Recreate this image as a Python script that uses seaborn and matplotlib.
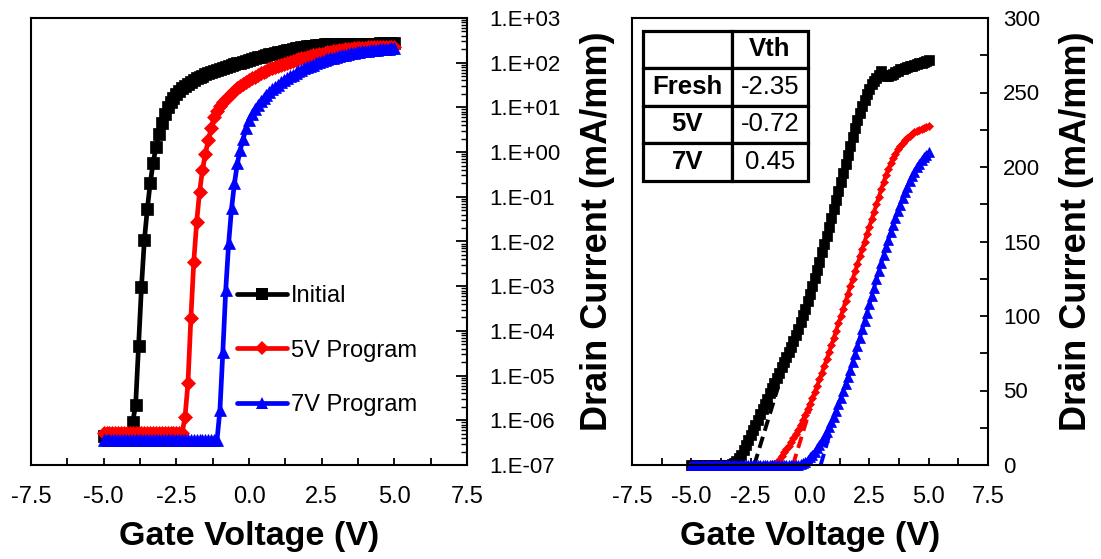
import numpy as np
import pandas as pd
import matplotlib
matplotlib.use("Agg")
import matplotlib.pyplot as plt
import seaborn as sns
from matplotlib.ticker import MultipleLocator, FuncFormatter, LogLocator, NullFormatter
from matplotlib.lines import Line2D

# Gate sweep: -5 V to +5 V in 0.1 V steps
gate_voltage = np.round(np.arange(-50, 51) / 10.0, 1)

# Drain current (mA/mm) for each sweep point
id_initial = [
    4.5e-7, 4.5e-7, 4.5e-7, 4.5e-7, 4.5e-7, 4.5e-7, 4.5e-7, 4.5e-7, 4.5e-7, 4.5e-7,
    9.3e-7, 2.2e-6, 4.6e-5, 9.5e-4, 1.07e-2, 5.2e-2, 0.20, 0.56, 1.32, 2.6,
    4.5, 7.0, 10.0, 13.2, 16.6, 20.0, 23.5, 27.0, 30.5, 34.0,
    37.5, 41.0, 44.5, 48.0, 51.5, 55.0, 58.5, 62.0, 65.5, 69.0,
    72.5, 76.0, 79.5, 83.5, 87.5, 91.5, 96.0, 100.5, 105.0, 110.0,
    115.0, 120.0, 125.5, 131.0, 136.5, 143.0, 148.5, 154.0, 160.0, 166.0,
    172.0, 178.0, 184.0, 190.0, 196.0, 202.0, 208.0, 214.0, 220.0, 226.0,
    231.5, 236.5, 241.0, 245.0, 249.0, 252.5, 255.5, 258.0, 260.0, 262.0,
    264.5, 262.0, 261.0, 261.0, 261.5, 262.5, 263.5, 264.5, 265.5, 266.0,
    266.5, 267.0, 267.5, 268.0, 268.5, 269.0, 269.5, 270.0, 270.5, 271.0,
    271.5,
]
id_5v = [
    5.2e-7, 5.2e-7, 5.2e-7, 5.2e-7, 5.2e-7, 5.2e-7, 5.2e-7, 5.2e-7, 5.2e-7, 5.2e-7,
    5.2e-7, 5.2e-7, 5.2e-7, 5.2e-7, 5.2e-7, 5.2e-7, 5.2e-7, 5.2e-7, 5.2e-7, 5.2e-7,
    5.2e-7, 5.2e-7, 5.2e-7, 5.2e-7, 5.2e-7, 5.2e-7, 5.2e-7, 5.2e-7, 1.2e-6, 6.8e-6,
    1.9e-4, 3.5e-3, 2.75e-2, 0.13, 0.40, 0.93, 1.86, 3.4, 6.2, 8.4,
    10.6, 12.9, 15.3, 18.0, 20.8, 23.8, 27.0, 30.3, 33.8, 37.4,
    41.1, 45.0, 49.0, 53.2, 57.5, 61.9, 66.4, 71.0, 75.7, 80.5,
    85.3, 90.2, 95.1, 100.0, 105.0, 110.0, 115.0, 120.0, 125.0, 130.0,
    135.0, 140.0, 145.0, 150.0, 155.0, 160.0, 165.0, 170.0, 175.0, 180.0,
    185.0, 190.0, 194.5, 198.5, 202.5, 206.0, 209.0, 211.8, 214.2, 216.3,
    218.1, 219.7, 221.1, 222.3, 223.3, 224.2, 225.0, 225.7, 226.3, 226.8,
    227.3,
]
id_7v = [
    3.6e-7, 3.6e-7, 3.6e-7, 3.6e-7, 3.6e-7, 3.6e-7, 3.6e-7, 3.6e-7, 3.6e-7, 3.6e-7,
    3.6e-7, 3.6e-7, 3.6e-7, 3.6e-7, 3.6e-7, 3.6e-7, 3.6e-7, 3.6e-7, 3.6e-7, 3.6e-7,
    3.6e-7, 3.6e-7, 3.6e-7, 3.6e-7, 3.6e-7, 3.6e-7, 3.6e-7, 3.6e-7, 3.6e-7, 3.6e-7,
    3.6e-7, 3.6e-7, 3.6e-7, 3.6e-7, 3.6e-7, 3.6e-7, 3.6e-7, 3.6e-7, 3.6e-7, 3.6e-7,
    1.7e-6, 3.4e-5, 8.3e-4, 9.1e-3, 5.5e-2, 0.20, 0.56, 1.12, 2.0, 3.4,
    5.2, 7.0, 9.0, 11.2, 13.6, 16.2, 19.0, 22.0, 25.2, 28.7,
    32.5, 36.5, 40.7, 45.0, 49.5, 54.2, 59.0, 64.0, 69.2, 74.5,
    79.9, 85.4, 91.0, 96.6, 102.2, 107.8, 113.4, 119.0, 124.6, 130.1,
    135.5, 140.8, 146.0, 151.1, 156.1, 161.0, 165.8, 170.4, 174.8, 179.0,
    183.0, 186.8, 190.4, 193.7, 196.8, 199.7, 202.3, 204.6, 206.6, 208.3,
    209.8,
]

series_names = ["Initial", "5V Program", "7V Program"]
series_colors = ["#000000", "#ff0000", "#0000ff"]
series_markers = ["s", "D", "^"]

# Threshold voltages from linear extrapolation of the transfer curves
vth_labels = ["Fresh", "5V", "7V"]
vth_values = [-2.35, -0.72, 0.45]
tangent_slopes = [52.0, 52.0, 55.0]   # mA/mm per V
tangent_tops = [52.0, 37.0, 22.0]     # mA/mm where the dashed guide stops

df = pd.DataFrame({
    "Vg": np.tile(gate_voltage, 3),
    "Id": np.concatenate([id_initial, id_5v, id_7v]),
    "series": np.repeat(series_names, len(gate_voltage)),
})

sns.set_style("ticks")
plt.rcParams["font.family"] = ["Liberation Sans", "DejaVu Sans"]
for key in ["text.color", "axes.labelcolor", "xtick.color", "ytick.color", "axes.edgecolor"]:
    plt.rcParams[key] = "black"

W, H = 1101, 559
fig = plt.figure(figsize=(W / 100, H / 100), dpi=100)
ax_log = fig.add_axes([31 / W, 94 / H, 436 / W, 447 / H])
ax_lin = fig.add_axes([632 / W, 94 / H, 356 / W, 447 / H])

ax_log.set_yscale("log")

log_sizes = {"s": 8.5, "D": 7.0, "^": 9.0}
lin_sizes = {"s": 6.5, "D": 4.0, "^": 6.5}

# Left: log-scale transfer curves with large markers
for name, color, marker in zip(series_names, series_colors, series_markers):
    sub = df[df["series"] == name]
    sns.lineplot(data=sub, x="Vg", y="Id", ax=ax_log, color=color, marker=marker,
                 markersize=log_sizes[marker], markeredgewidth=0.5, markeredgecolor=color,
                 linewidth=3.4, sort=False, estimator=None, legend=False)

# Right: dashed extrapolation guides, then the linear-scale curves
for vth, slope, top, color in zip(vth_values, tangent_slopes, tangent_tops, series_colors):
    v_end = vth + top / slope
    ax_lin.plot([vth, v_end], [0.0, top], color=color, linewidth=2.8,
                linestyle=(0, (3, 1.6)), zorder=1.5)

for name, color, marker in zip(series_names, series_colors, series_markers):
    sub = df[df["series"] == name]
    sns.lineplot(data=sub, x="Vg", y="Id", ax=ax_lin, color=color, marker=marker,
                 markersize=lin_sizes[marker], markeredgewidth=0.5, markeredgecolor=color,
                 linewidth=2.8, sort=False, estimator=None, legend=False,
                 clip_on=False, zorder=2)

x_fmt = FuncFormatter(lambda v, p: f"{v:.1f}")
for ax in (ax_log, ax_lin):
    ax.set_xlim(-7.5, 7.5)
    ax.xaxis.set_major_locator(MultipleLocator(2.5))
    ax.xaxis.set_minor_locator(MultipleLocator(1.25))
    ax.xaxis.set_major_formatter(x_fmt)
    ax.tick_params(axis="x", which="both", direction="in", length=5, width=1.3,
                   labelsize=17, pad=15, top=False, bottom=True)
    ax.yaxis.tick_right()
    ax.yaxis.set_label_position("right")
    for sp in ax.spines.values():
        sp.set_visible(True)
        sp.set_linewidth(1.5)
        sp.set_color("black")
    ax.set_xlabel("Gate Voltage (V)", fontsize=24.5, fontweight="bold")
    ax.xaxis.label.set_va("center")
    ax.xaxis.set_label_coords(0.5, -0.159)
    ax.set_ylabel("Drain Current (mA/mm)", fontsize=26, fontweight="bold")
    ax.yaxis.label.set_va("center")
    ax.yaxis.label.set_ha("center")

# Log axis ticks: 1.E+03 style
ax_log.set_ylim(1e-7, 1e3)
ax_log.yaxis.set_major_locator(LogLocator(base=10, numticks=20))
ax_log.yaxis.set_minor_locator(LogLocator(base=10, subs=np.arange(2, 10), numticks=20))
ax_log.yaxis.set_minor_formatter(NullFormatter())
ax_log.yaxis.set_major_formatter(
    FuncFormatter(lambda v, p: "1.E{:+03d}".format(int(round(np.log10(v))))))
ax_log.tick_params(axis="y", which="major", direction="in", length=8, width=1.3,
                   labelsize=16, pad=16, left=False, right=True)
ax_log.tick_params(axis="y", which="minor", direction="in", length=4, width=1.0,
                   left=False, right=True)
ax_log.yaxis.set_label_coords((597 - 31) / 436, (465 - 231) / 447)

# Linear axis ticks
ax_lin.set_ylim(0, 300)
ax_lin.yaxis.set_major_locator(MultipleLocator(50))
ax_lin.yaxis.set_minor_locator(MultipleLocator(25))
ax_lin.yaxis.set_major_formatter(FuncFormatter(lambda v, p: f"{v:.0f}"))
ax_lin.tick_params(axis="y", which="both", direction="in", length=6, width=1.3,
                   labelsize=16, pad=11, left=False, right=True)
ax_lin.yaxis.set_label_coords((1076 - 632) / 356, (465 - 231) / 447)

# Legend on the log plot
handles = [
    Line2D([0], [0], color=c, linewidth=3.4, marker=m,
           markersize=log_sizes[m], markeredgewidth=0)
    for c, m in zip(series_colors, series_markers)
]
ax_log.legend(handles, series_names, loc="upper left",
              bbox_to_anchor=((237 - 31) / 436, (465 - 285) / 447),
              frameon=False, fontsize=17, handlelength=2.1, handletextpad=0.2,
              labelspacing=1.38, borderpad=0, borderaxespad=0, numpoints=1)

# Vth summary table
cell_text = [["", "Vth"]] + [[lab, f"{v:.2f}"] for lab, v in zip(vth_labels, vth_values)]
x0 = (642.7 - 632) / 356
x1 = (808 - 632) / 356
y_top = (465 - 30.7) / 447
y_bot = (465 - 180.7) / 447
tbl = ax_lin.table(cellText=cell_text, cellLoc="center", colWidths=[0.54, 0.46],
                   bbox=[x0, y_bot, x1 - x0, y_top - y_bot], zorder=5)
tbl.auto_set_font_size(False)
for (r, c), cell in tbl.get_celld().items():
    cell.set_linewidth(2.3)
    cell.set_edgecolor("black")
    cell.set_facecolor("white")
    txt = cell.get_text()
    txt.set_fontsize(18.5)
    if c == 0 or r == 0:
        txt.set_fontweight("bold")

fig.savefig("out.png", dpi=100)
